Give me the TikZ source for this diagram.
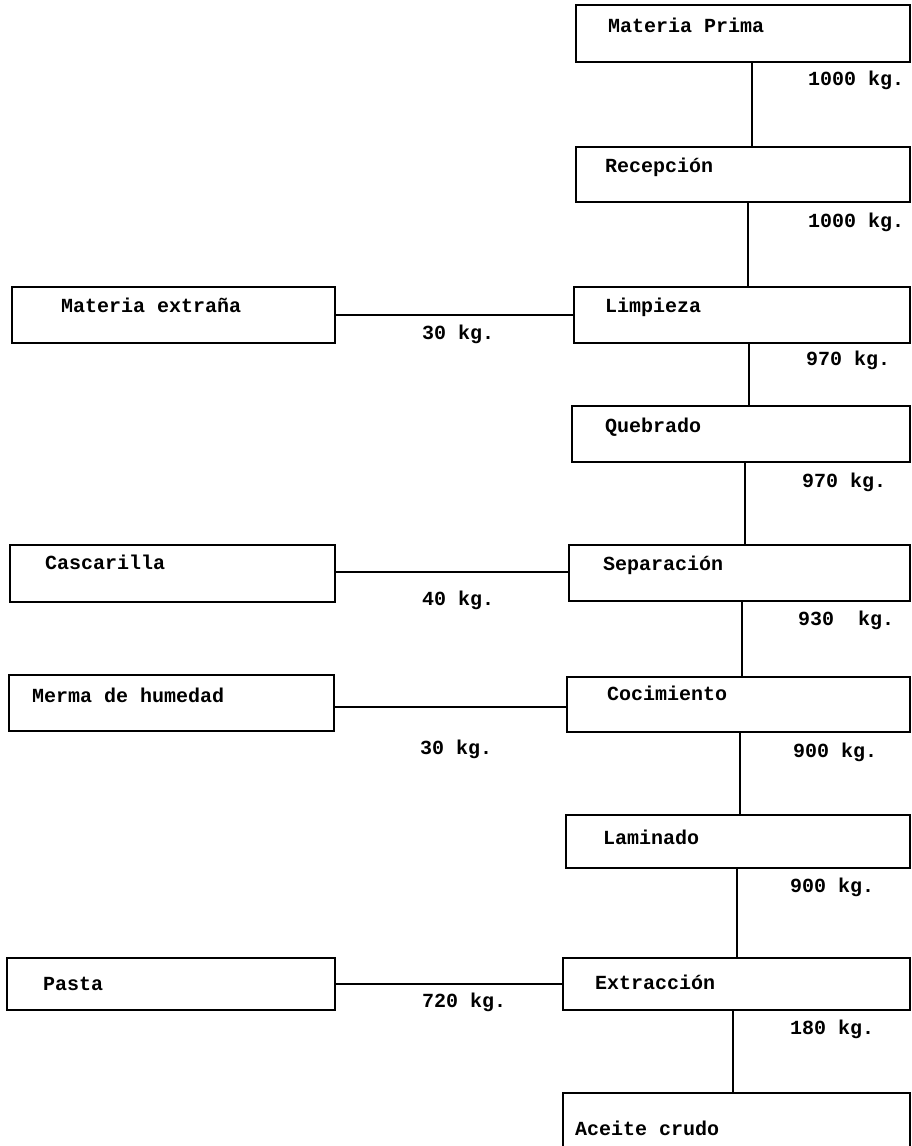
\documentclass[tikz,border=0pt]{standalone}
\usepackage{fontspec}
\setmainfont{Liberation Mono}
\usetikzlibrary{fit}
\begin{document}
\begin{tikzpicture}[x=1pt,y=-1pt,
  box/.style={draw, line width=2.6pt, inner sep=0pt},
  txt/.style={anchor=base west, inner sep=0pt, font=\fontsize{20}{24}\selectfont\bfseries},
  link/.style={line width=2.6pt}]
\useasboundingbox (0,0) rectangle (912,1146);
\clip (0,0) rectangle (912,1146);
% main column boxes
\node[box, fit={(576,5) (910,62)}] (mp) {};
\node[box, fit={(576,147) (910,202)}] (rec) {};
\node[box, fit={(574,287) (910,343)}] (lim) {};
\node[box, fit={(572,406) (910,462)}] (que) {};
\node[box, fit={(569,545) (910,601)}] (sep) {};
\node[box, fit={(567,677) (910,732)}] (coc) {};
\node[box, fit={(566,815) (910,868)}] (lam) {};
\node[box, fit={(563,958) (910,1010)}] (ext) {};
\node[box, fit={(563,1093) (910,1170)}] (ace) {};
% side boxes
\node[box, fit={(12,287) (335,343)}] (me) {};
\node[box, fit={(10,545) (335,602)}] (cas) {};
\node[box, fit={(9,675) (334,731)}] (mer) {};
\node[box, fit={(7,958) (335,1010)}] (pas) {};
% box texts
\node[txt] (tmp) at (608,32) {Materia Prima};
\node[txt] (trec) at (605,172) {Recepción};
\node[txt] (tlim) at (605,312) {Limpieza};
\node[txt] (tque) at (605,432) {Quebrado};
\node[txt] (tsep) at (603,570) {Separación};
\node[txt] (tcoc) at (607,700) {Cocimiento};
\node[txt] (tlam) at (603,844) {Laminado};
\node[txt] (text) at (595,989) {Extracción};
\node[txt] (tace) at (575,1135) {Aceite crudo};
\node[txt] (tme) at (61,312) {Materia extraña};
\node[txt] (tcas) at (45,569) {Cascarilla};
\node[txt] (tmer) at (32,702) {Merma de humedad};
\node[txt] (tpas) at (43,990) {Pasta};
% connector guide coordinates
\coordinate (v1) at (752,0);
\coordinate (v2) at (748,0);
\coordinate (v3) at (749,0);
\coordinate (v4) at (745,0);
\coordinate (v5) at (742,0);
\coordinate (v6) at (740,0);
\coordinate (v7) at (737,0);
\coordinate (v8) at (733,0);
\coordinate (h1) at (0,315);
\coordinate (h2) at (0,572);
\coordinate (h3) at (0,707);
\coordinate (h4) at (0,984);
% vertical connectors
\draw[link] (mp.south -| v1) -- (rec.north -| v1);
\draw[link] (rec.south -| v2) -- (lim.north -| v2);
\draw[link] (lim.south -| v3) -- (que.north -| v3);
\draw[link] (que.south -| v4) -- (sep.north -| v4);
\draw[link] (sep.south -| v5) -- (coc.north -| v5);
\draw[link] (coc.south -| v6) -- (lam.north -| v6);
\draw[link] (lam.south -| v7) -- (ext.north -| v7);
\draw[link] (ext.south -| v8) -- (ace.north -| v8);
% horizontal connectors
\draw[link] (me.east |- h1) -- (lim.west |- h1);
\draw[link] (cas.east |- h2) -- (sep.west |- h2);
\draw[link] (mer.east |- h3) -- (coc.west |- h3);
\draw[link] (pas.east |- h4) -- (ext.west |- h4);
% quantity labels
\node[txt] (q1) at (808,85) {1000 kg.};
\node[txt] (q2) at (808,227) {1000 kg.};
\node[txt] (q3) at (806,365) {970 kg.};
\node[txt] (q4) at (802,487) {970 kg.};
\node[txt] (q5) at (798,625) {930\ \ kg.};
\node[txt] (q6) at (793,757) {900 kg.};
\node[txt] (q7) at (790,892) {900 kg.};
\node[txt] (q8) at (790,1034) {180 kg.};
\node[txt] (s1) at (422,339) {30 kg.};
\node[txt] (s2) at (422,605) {40 kg.};
\node[txt] (s3) at (420,754) {30 kg.};
\node[txt] (s4) at (422,1007) {720 kg.};
\end{tikzpicture}
\end{document}
